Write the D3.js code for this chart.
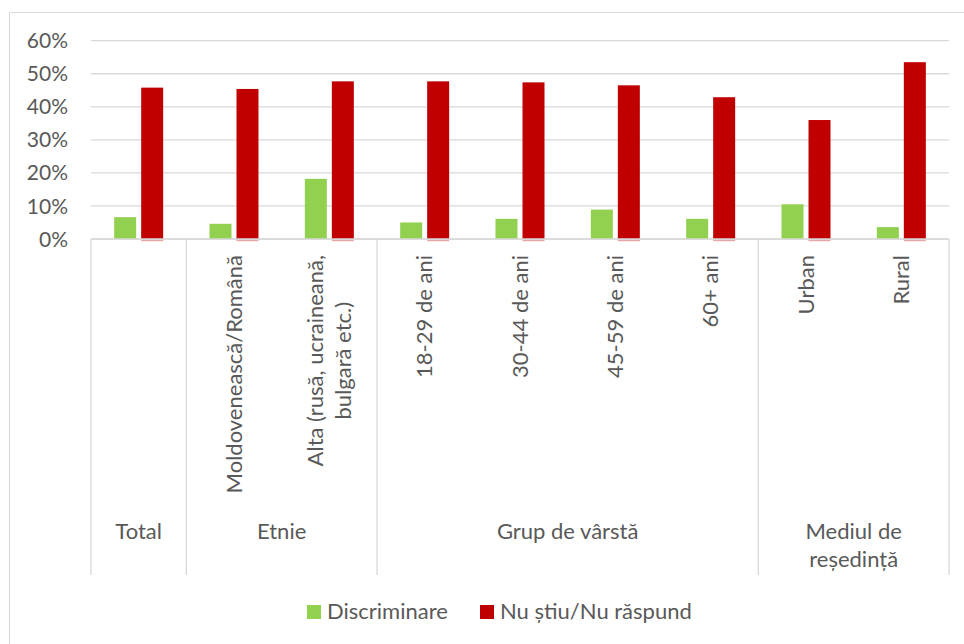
<!DOCTYPE html>
<html>
<head>
<meta charset="utf-8">
<script src="https://cdn.jsdelivr.net/npm/d3@7"></script>
<style>
  body { margin: 0; background: #fff; }
  text { font-family: Lato, "Open Sans", sans-serif; fill: #595959; }
</style>
</head>
<body>
<svg id="chart" width="964" height="644"></svg>
<script>
// categories (inner level) and groups (outer level)
var categories = ["Total", "Moldovenească/Română", "Alta (rusă, ucraineană,|bulgară etc.)",
    "18-29 de ani", "30-44 de ani", "45-59 de ani", "60+ ani", "Urban", "Rural"];
var categoryGroup = ["Total", "Etnie", "Etnie", "Grup de vârstă", "Grup de vârstă",
    "Grup de vârstă", "Grup de vârstă", "Mediul de reședință", "Mediul de reședință"];
var groups = ["Total", "Etnie", "Grup de vârstă", "Mediul de|reședință"];
var groupKeys = ["Total", "Etnie", "Grup de vârstă", "Mediul de reședință"];

var seriesNames = ["Discriminare", "Nu știu/Nu răspund"];
var discriminare = [6.6, 4.6, 18.2, 5.0, 6.1, 8.9, 6.1, 10.5, 3.6];
var nuStiu = [45.8, 45.4, 47.7, 47.7, 47.4, 46.5, 42.9, 36.0, 53.5];
var yTicks = [0, 10, 20, 30, 40, 50, 60];
var colors = ["#92d050", "#c00000"];

var svg = d3.select("#chart");
var grid = "#d9d9d9";

// outer chart border (left + top)
svg.append("path")
    .attr("d", "M9.5,644 V12.5 H964")
    .attr("fill", "none")
    .attr("stroke", grid)
    .attr("stroke-width", 1);

var plotLeft = 91, plotRight = 949, plotTop = 40.7, zero = 239;

var x = d3.scaleBand().domain(d3.range(categories.length)).range([plotLeft, plotRight]);
var y = d3.scaleLinear().domain([0, 60]).range([zero, plotTop]);

var barW = 22, gap = 5;

// gridlines
svg.append("g").selectAll("line").data(yTicks).enter().append("line")
    .attr("x1", plotLeft).attr("x2", plotRight)
    .attr("y1", function(d) { return y(d); })
    .attr("y2", function(d) { return y(d); })
    .attr("stroke", grid).attr("stroke-width", 1.3);

// y labels
svg.append("g").selectAll("text").data(yTicks).enter().append("text")
    .attr("x", 68)
    .attr("y", function(d) { return y(d); })
    .attr("dy", "0.36em")
    .attr("text-anchor", "end")
    .style("font-size", "21px")
    .text(function(d) { return d + "%"; });

// bars
var series = [discriminare, nuStiu];
series.forEach(function(vals, s) {
    svg.append("g").selectAll("rect").data(vals).enter().append("rect")
        .attr("x", function(d, i) {
            var c = x(i) + x.bandwidth() / 2;
            return s === 0 ? c - gap / 2 - barW : c + gap / 2;
        })
        .attr("y", function(d) { return y(d); })
        .attr("width", barW)
        .attr("height", function(d) { return zero - y(d); })
        .attr("fill", colors[s]);
});

// pink feet under the red bars
svg.append("g").selectAll("rect").data(nuStiu).enter().append("rect")
    .attr("x", function(d, i) { return x(i) + x.bandwidth() / 2 + gap / 2; })
    .attr("y", zero + 0.7)
    .attr("width", barW)
    .attr("height", 1.5)
    .attr("fill", "#eaa4a4");

// axis base line
svg.append("line")
    .attr("x1", plotLeft).attr("x2", plotRight)
    .attr("y1", zero).attr("y2", zero)
    .attr("stroke", grid).attr("stroke-width", 1.3);

// group separators
var bounds = [0];
categoryGroup.forEach(function(g, i) {
    if (i > 0 && g !== categoryGroup[i - 1]) bounds.push(i);
});
bounds.push(categories.length);

svg.append("g").selectAll("line").data(bounds).enter().append("line")
    .attr("x1", function(d) { return d < categories.length ? x(d) : plotRight; })
    .attr("x2", function(d) { return d < categories.length ? x(d) : plotRight; })
    .attr("y1", zero).attr("y2", 575)
    .attr("stroke", grid).attr("stroke-width", 1.3);

// rotated category labels
var labelTop = 255, lineGap = 28;
categories.forEach(function(cat, i) {
    if (cat === "Total") return;
    var lines = cat.split("|");
    var cx = x(i) + x.bandwidth() / 2;
    var g = svg.append("g");
    var texts = lines.map(function(t, k) {
        return g.append("text")
            .style("font-size", "22px")
            .attr("text-anchor", "middle")
            .text(t);
    });
    var maxLen = d3.max(texts, function(t) { return t.node().getComputedTextLength(); });
    var cy = labelTop + maxLen / 2;
    texts.forEach(function(t, k) {
        var off = (k - (lines.length - 1) / 2) * lineGap;
        t.attr("transform", "translate(" + (cx + off) + "," + cy + ") rotate(-90)")
            .attr("dy", "0.35em");
    });
});

// group labels
groups.forEach(function(gname, gi) {
    var idx = categoryGroup.map(function(c, i) { return c === groupKeys[gi] ? i : -1; })
        .filter(function(i) { return i >= 0; });
    var x0 = x(idx[0]), x1 = x(idx[idx.length - 1]) + x.bandwidth();
    var t = svg.append("text")
        .attr("x", (x0 + x1) / 2)
        .attr("y", 539)
        .attr("text-anchor", "middle")
        .style("font-size", "22px");
    gname.split("|").forEach(function(l, k) {
        t.append("tspan").attr("x", (x0 + x1) / 2).attr("dy", k === 0 ? 0 : 28).text(l);
    });
});

// legend
var legendX = [307, 480];
seriesNames.forEach(function(name, s) {
    svg.append("rect")
        .attr("x", legendX[s]).attr("y", 605)
        .attr("width", 14).attr("height", 14)
        .attr("fill", colors[s]);
    svg.append("text")
        .attr("x", legendX[s] + 20).attr("y", 619)
        .style("font-size", "22px")
        .text(name);
});
</script>
</body>
</html>
